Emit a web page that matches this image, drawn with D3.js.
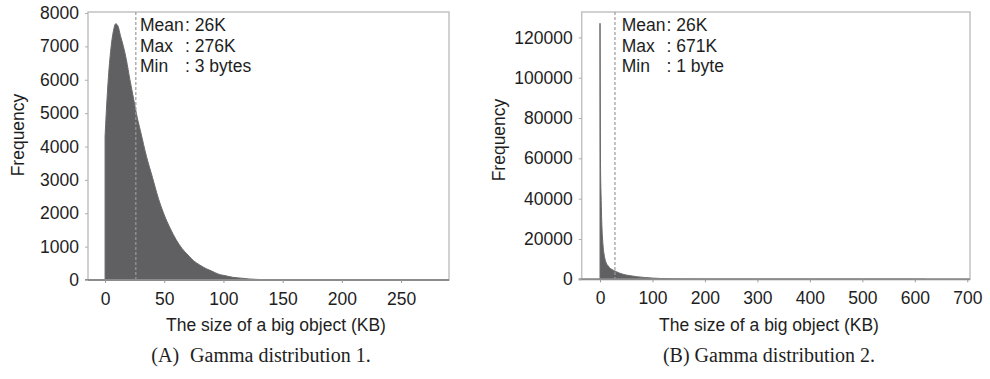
<!DOCTYPE html>
<html>
<head>
<meta charset="utf-8">
<script src="https://cdn.jsdelivr.net/npm/d3@7"></script>
<style>
  body { margin: 0; background: #fff; }
  text { font-family: "Liberation Sans", Arial, sans-serif; fill: #1e1e1e; }
  .caption { font-family: "Liberation Serif", "Times New Roman", serif; font-size: 20px; }
</style>
</head>
<body>
<div id="chart"></div>
<script>
var width = 990;
var height = 379;

// histogram A (KB, frequency)
var sizesA = [0, 1, 2.5, 5, 7, 9, 11, 13, 15.5, 18, 21, 24, 27, 30, 35, 40, 45, 50, 55, 60,
              65, 70, 75, 80, 86, 90, 97, 100, 108, 115, 122, 136, 150, 175, 200];
var freqA  = [4300, 5000, 5900, 6950, 7450, 7680, 7600, 7320, 7000, 6600, 6000, 5450, 4900, 4450, 3700, 3080, 2450, 1950, 1550, 1210,
              945, 750, 570, 450, 330, 270, 160, 140, 80, 55, 30, 10, 4, 1, 0];

// histogram B
var sizesB = [0, 1, 2, 3, 4, 5, 6, 8, 10, 12, 15, 18, 22, 26, 31, 37, 44, 50, 57, 70,
              85, 100, 120, 140, 160, 180, 200, 250, 300, 400, 500, 620];
var freqB  = [127000, 55000, 42000, 31000, 24000, 19500, 16000, 12000, 9500, 8000, 6800, 5800, 5000, 4400, 3800, 3100, 2500, 2100, 1800, 1300,
              900, 600, 350, 200, 120, 80, 55, 25, 12, 5, 2, 0];

var xTicksA = [0, 50, 100, 150, 200, 250];
var yTicksA = [0, 1000, 2000, 3000, 4000, 5000, 6000, 7000, 8000];
var xTicksB = [0, 100, 200, 300, 400, 500, 600, 700];
var yTicksB = [0, 20000, 40000, 60000, 80000, 100000, 120000];

var meanMarks = [26, 28.5];
var statLabels = ["Mean", "Max", "Min"];
var statsA = [": 26K", ": 276K", ": 3 bytes"];
var statsB = [": 26K", ": 671K", ": 1 byte"];
var captions = [["(A)", "Gamma distribution 1."], ["(B)", "Gamma distribution 2."]];

var panels = [
  { sizes: sizesA, freq: freqA, xTicks: xTicksA, yTicks: yTicksA, stats: statsA, mean: meanMarks[0], cap: captions[0],
    xDom: [-14.4, 290.5], yDom: [0, 8030], left: 88, right: 449, top: 12, bottom: 280,
    freqX: 24, freqY: 135, titleX: 276, capX: 261, capGap: 11, statX: 140, colonX: 185 },
  { sizes: sizesB, freq: freqB, xTicks: xTicksB, yTicks: yTicksB, stats: statsB, mean: meanMarks[1], cap: captions[1],
    xDom: [-34.9, 705.2], yDom: [0, 132600], left: 581.7, right: 970, top: 12, bottom: 279.3,
    freqX: 505, freqY: 140, titleX: 769, capX: 769, capGap: 5, statX: 621.7, colonX: 666.5 }
];

var svg = d3.select("#chart")
            .append("svg")
            .attr("width", width)
            .attr("height", height);

svg.append("rect").attr("width", width).attr("height", height).attr("fill", "#fff");

panels.forEach(function(p) {
  var x = d3.scaleLinear().domain(p.xDom).range([p.left, p.right]);
  var y = d3.scaleLinear().domain(p.yDom).range([p.bottom, p.top]);
  var g = svg.append("g");

  // frame
  g.append("rect")
   .attr("x", p.left).attr("y", p.top)
   .attr("width", p.right - p.left).attr("height", p.bottom - p.top)
   .attr("fill", "none")
   .attr("stroke", "#c2c2c2")
   .attr("stroke-width", 1.5);

  var pts = p.sizes.map(function(s, i) { return [s, p.freq[i]]; });

  var area = d3.area()
               .x(function(d) { return x(d[0]); })
               .y0(y(0))
               .y1(function(d) { return y(d[1]); })
               .curve(d3.curveMonotoneX);

  g.append("path")
   .datum(pts)
   .attr("d", area)
   .attr("fill", "#606062")
   .attr("stroke", "#6a6a6c")
   .attr("stroke-width", 1);

  // mean marker
  g.append("line")
   .attr("x1", x(p.mean)).attr("x2", x(p.mean))
   .attr("y1", p.top).attr("y2", p.bottom)
   .attr("stroke", "#9a9a9a")
   .attr("stroke-width", 1.2)
   .attr("stroke-dasharray", "3,2");

  // axes
  var xAxis = g.append("g")
               .attr("transform", "translate(0," + p.bottom + ")")
               .call(d3.axisBottom(x).tickValues(p.xTicks).tickSize(3).tickPadding(9.5).tickSizeOuter(0));
  xAxis.select(".domain").attr("stroke", "#8c8c8c").attr("stroke-width", 2)
       .attr("d", "M" + (p.left - 3) + ",0H" + p.right);
  xAxis.selectAll(".tick line").attr("stroke", "#9a9a9a");
  xAxis.selectAll("text").style("font-size", "17.5px").attr("fill", "#1e1e1e");

  var yAxis = g.append("g")
               .attr("transform", "translate(" + p.left + ",0)")
               .call(d3.axisLeft(y).tickValues(p.yTicks).tickSize(3).tickPadding(6).tickFormat(d3.format("d")));
  yAxis.select(".domain").remove();
  yAxis.selectAll(".tick line").attr("stroke", "#b0b0b0");
  yAxis.selectAll("text").style("font-size", "17.5px").attr("fill", "#1e1e1e");

  // titles
  g.append("text")
   .attr("transform", "translate(" + p.freqX + "," + p.freqY + ") rotate(-90)")
   .attr("text-anchor", "middle")
   .style("font-size", "17.5px")
   .text("Frequency");

  g.append("text")
   .attr("x", p.titleX).attr("y", 331)
   .attr("text-anchor", "middle")
   .style("font-size", "17.5px")
   .text("The size of a big object (KB)");

  // stats box
  for (var i = 0; i < 3; i++) {
    g.append("text")
     .attr("x", p.statX).attr("y", 31 + i * 20.5)
     .style("font-size", "17.5px")
     .text(statLabels[i]);
    g.append("text")
     .attr("x", p.colonX).attr("y", 31 + i * 20.5)
     .style("font-size", "17.5px")
     .text(p.stats[i]);
  }

  // caption
  var cap = g.append("text")
             .attr("class", "caption")
             .attr("x", p.capX).attr("y", 362)
             .attr("text-anchor", "middle");
  cap.append("tspan").text(p.cap[0]);
  cap.append("tspan").attr("dx", p.capGap).text(p.cap[1]);
});
</script>
</body>
</html>
